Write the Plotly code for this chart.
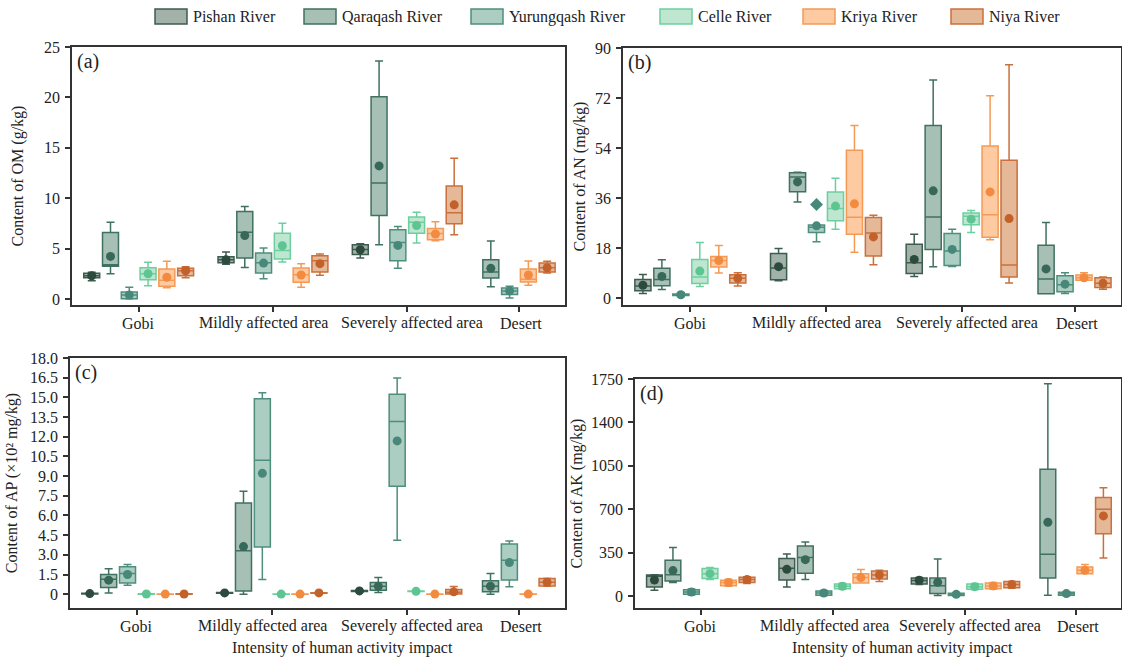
import plotly.graph_objects as go

FONT = "Liberation Serif"
W, H = 1122, 658

categories = ["Gobi", "Mildly affected area", "Severely affected area", "Desert"]
rivers = ["Pishan River", "Qaraqash River", "Yurungqash River", "Celle River", "Kriya River", "Niya River"]
group_centers = [2.5, 9.65, 16.8, 22.75]
label_nudge_px = [0, -9, 5, 2]   # small horizontal nudges of category labels (as in the original)

fill_colors = ["#a2b2a8", "#a7c0b6", "#abcdc2", "#bfe6d0", "#fdcaa2", "#e5b898"]
line_colors = ["#3d5c50", "#40705f", "#4e8e7c", "#6dcf9f", "#f59a55", "#c9703c"]
mean_colors = ["#2d4a3e", "#37685a", "#47887a", "#5cc592", "#f28a40", "#c2622a"]

# ---- each row = one river, columns = [Gobi, Mildly, Severely, Desert]; None = no data ----
# (a) OM g/kg
om_lo = [[1.8, 3.45, 4.06, None], [2.5, 3.13, 5.38, 1.22], [0.0, 2.0, 3.04, 0.1],
         [1.3, 3.66, 5.54, None], [1.1, 1.15, 5.78, 1.35], [2.1, 2.34, 6.37, 2.57]]
om_q1 = [[2.1, 3.6, 4.4, None], [3.25, 4.06, 8.28, 2.08], [0.03, 2.57, 3.8, 0.43],
         [1.9, 3.96, 6.53, None], [1.25, 1.65, 5.87, 1.68], [2.3, 2.67, 7.46, 2.67]]
om_med = [[2.3, 3.9, 4.9, None], [3.4, 6.63, 11.5, 2.67], [0.4, 3.6, 5.6, 0.8],
          [2.5, 4.8, 7.6, None], [1.85, 2.4, 6.5, 1.95], [2.8, 3.8, 8.55, 3.1]]
om_q3 = [[2.55, 4.2, 5.38, None], [6.6, 8.68, 20.07, 3.89], [0.7, 4.55, 6.86, 1.09],
         [3.1, 6.53, 8.12, None], [2.97, 3.07, 7.0, 2.97], [3.05, 4.29, 11.22, 3.56]]
om_hi = [[2.65, 4.65, 5.48, None], [7.6, 9.17, 23.6, 5.74], [1.15, 5.05, 7.2, 1.25],
         [3.65, 7.5, 8.61, None], [3.73, 3.5, 7.66, 3.76], [3.2, 4.46, 13.96, 3.73]]
om_mean = [[2.3, 3.9, 4.88, None], [4.22, 6.3, 13.2, 3.04], [0.4, 3.56, 5.31, 0.8],
           [2.5, 5.28, 7.29, None], [2.15, 2.38, 6.44, 2.38], [2.8, 3.5, 9.34, 3.1]]

# (b) AN mg/kg
an_lo = [[1.6, 6.25, 7.8, None], [3.1, 34.6, 11.3, 1.56], [0.6, 20.3, 11.4, 1.6],
         [4.2, 24.8, 23.6, None], [9.0, 16.5, 21.0, 6.4], [4.3, 12.0, 5.4, 3.2]]
an_q1 = [[2.6, 6.6, 8.8, None], [4.4, 38.3, 17.5, 1.56], [0.9, 23.6, 11.7, 2.3],
         [5.2, 27.8, 26.4, None], [11.2, 23.0, 21.9, 6.4], [5.4, 15.1, 7.6, 3.8]]
an_med = [[4.3, 10.8, 12.7, None], [6.7, 43.6, 29.2, 6.85], [1.2, 25.5, 16.9, 4.8],
          [7.6, 32.2, 29.4, None], [13.5, 29.1, 30.0, 7.3], [7.1, 23.4, 11.9, 5.3]]
an_q3 = [[6.7, 16.0, 19.4, None], [10.7, 45.1, 62.1, 18.99], [1.5, 26.3, 23.2, 8.05],
         [13.9, 38.2, 30.6, None], [15.0, 53.2, 54.7, 8.3], [8.4, 29.0, 49.6, 7.3]]
an_hi = [[8.5, 17.8, 23.0, None], [13.8, 45.3, 78.5, 27.2], [1.9, 26.3, 24.8, 9.1],
         [20.0, 43.1, 31.5, None], [18.9, 62.1, 72.8, 9.1], [9.1, 29.8, 84.0, 7.6]]
an_mean = [[4.6, 11.3, 13.9, None], [7.8, 41.8, 38.6, 10.5], [1.2, 26.0, 17.5, 5.0],
           [9.7, 33.1, 28.4, None], [13.5, 33.9, 38.2, 7.3], [7.1, 22.0, 28.6, 5.3]]
an_outlier_river = "Yurungqash River"
an_outlier_category = "Mildly affected area"
an_outlier_value = 33.7

# (c) AP x10^2 mg/kg
ap_lo = [[0.0, 0.05, 0.18, None], [0.1, 0.0, 0.13, 0.0], [0.69, 1.12, 4.11, 0.56],
         [0.0, 0.0, 0.18, None], [0.0, 0.0, 0.0, 0.0], [0.0, 0.05, 0.0, 0.61]]
ap_q1 = [[0.02, 0.07, 0.2, None], [0.51, 0.25, 0.3, 0.18], [0.86, 3.6, 8.22, 1.09],
         [0.0, 0.0, 0.2, None], [0.0, 0.0, 0.0, 0.0], [0.0, 0.07, 0.02, 0.63]]
ap_med = [[0.05, 0.1, 0.25, None], [1.14, 3.32, 0.6, 0.6], [1.57, 10.2, 13.17, 2.59],
          [0.02, 0.01, 0.22, None], [0.01, 0.01, 0.01, 0.01], [0.02, 0.1, 0.15, 0.91]]
ap_q3 = [[0.08, 0.13, 0.28, None], [1.5, 6.95, 0.89, 1.02], [2.1, 14.9, 15.23, 3.83],
         [0.03, 0.02, 0.24, None], [0.02, 0.02, 0.02, 0.02], [0.03, 0.12, 0.36, 1.19]]
ap_hi = [[0.1, 0.15, 0.3, None], [1.95, 7.84, 1.27, 1.57], [2.26, 15.36, 16.47, 4.06],
         [0.05, 0.03, 0.26, None], [0.03, 0.03, 0.03, 0.03], [0.05, 0.15, 0.58, 1.22]]
ap_mean = [[0.05, 0.1, 0.25, None], [1.07, 3.63, 0.61, 0.61], [1.5, 9.21, 11.68, 2.41],
           [0.02, 0.01, 0.22, None], [0.01, 0.01, 0.01, 0.01], [0.02, 0.1, 0.18, 0.91]]

# (d) AK mg/kg
ak_lo = [[46, 73, 92, None], [108, 132, 3, 5], [8, 3, 0, 2],
         [132, 54, 50, None], [78, 105, 55, 180], [100, 116, 62, 307]]
ak_q1 = [[73, 129, 97, None], [121, 183, 19, 145], [13, 5, 3, 5],
         [140, 59, 54, None], [83, 105, 59, 180], [108, 137, 67, 501]]
ak_med = [[160, 223, 125, None], [172, 310, 83, 337], [32, 24, 13, 19],
          [180, 78, 75, None], [108, 148, 81, 207], [132, 170, 92, 700]]
ak_q3 = [[170, 302, 145, None], [288, 404, 145, 1023], [51, 40, 22, 30],
         [221, 97, 97, None], [127, 180, 105, 234], [151, 202, 116, 794]]
ak_hi = [[172, 339, 150, None], [390, 436, 299, 1712], [57, 45, 26, 35],
         [229, 102, 100, None], [135, 213, 108, 253], [156, 207, 118, 872]]
ak_mean = [[129, 215, 127, None], [205, 293, 110, 595], [32, 24, 13, 19],
           [180, 78, 75, None], [108, 148, 81, 207], [132, 170, 92, 646]]

om_ticks = [0, 5, 10, 15, 20, 25]
an_ticks = [0, 18, 36, 54, 72, 90]
ap_ticks = [0, 1.5, 3.0, 4.5, 6.0, 7.5, 9.0, 10.5, 12.0, 13.5, 15.0, 16.5, 18.0]
ap_ticktext = ["0"] + [f"{v:.1f}" for v in ap_ticks[1:]]
ak_ticks = [0, 350, 700, 1050, 1400, 1750]
x_title = "Intensity of human activity impact"

panels = [
    dict(lo=om_lo, q1=om_q1, med=om_med, q3=om_q3, hi=om_hi, mean=om_mean, ax="", letter="(a)",
         title="Content of OM (g/kg)", ticks=om_ticks, ticktext=[str(v) for v in om_ticks],
         yrange=[-0.6, 25], px=(72, 565), py=(47, 305), tstand=16, xt=None),
    dict(lo=an_lo, q1=an_q1, med=an_med, q3=an_q3, hi=an_hi, mean=an_mean, ax="2", letter="(b)",
         title="Content of AN (mg/kg)", ticks=an_ticks, ticktext=[str(v) for v in an_ticks],
         yrange=[-2.5, 90], px=(623, 1121), py=(48, 305), tstand=5, xt=None),
    dict(lo=ap_lo, q1=ap_q1, med=ap_med, q3=ap_q3, hi=ap_hi, mean=ap_mean, ax="3", letter="(c)",
         title="Content of AP (×10² mg/kg)", ticks=ap_ticks, ticktext=ap_ticktext,
         yrange=[-1.05, 18], px=(70, 565), py=(358, 608), tstand=8, xt=342),
    dict(lo=ak_lo, q1=ak_q1, med=ak_med, q3=ak_q3, hi=ak_hi, mean=ak_mean, ax="4", letter="(d)",
         title="Content of AK (mg/kg)", ticks=ak_ticks, ticktext=[str(v) for v in ak_ticks],
         yrange=[-97, 1750], px=(635, 1121), py=(379, 608), tstand=4, xt=902),
]


def positions(panel):
    """x position of each river's box in each category (present rivers are centred on the group)."""
    pos = [[None] * 4 for _ in rivers]
    for c in range(4):
        present = [r for r in range(len(rivers)) if panel["med"][r][c] is not None]
        n = len(present)
        for k, r in enumerate(present):
            pos[r][c] = group_centers[c] + (k - (n - 1) / 2)
    return pos


fig = go.Figure()
for p in panels:
    pos = positions(p)
    xa, ya = "x" + p["ax"], "y" + p["ax"]
    for r in range(len(rivers)):
        idx = [c for c in range(4) if p["med"][r][c] is not None]
        fig.add_trace(go.Box(
            x=[pos[r][c] for c in idx],
            q1=[p["q1"][r][c] for c in idx],
            median=[p["med"][r][c] for c in idx],
            q3=[p["q3"][r][c] for c in idx],
            lowerfence=[p["lo"][r][c] for c in idx],
            upperfence=[p["hi"][r][c] for c in idx],
            orientation="v", width=0.85, whiskerwidth=0.5, boxpoints=False,
            fillcolor=fill_colors[r], line=dict(color=line_colors[r], width=1.5),
            name=rivers[r], showlegend=False, xaxis=xa, yaxis=ya))
        fig.add_trace(go.Scatter(
            x=[pos[r][c] for c in idx], y=[p["mean"][r][c] for c in idx],
            mode="markers", marker=dict(color=mean_colors[r], size=9),
            showlegend=False, xaxis=xa, yaxis=ya, hoverinfo="skip"))
    if p["ax"] == "2":
        r = rivers.index(an_outlier_river)
        c = categories.index(an_outlier_category)
        fig.add_trace(go.Scatter(
            x=[pos[r][c]], y=[an_outlier_value], mode="markers",
            marker=dict(symbol="diamond", color=mean_colors[r], size=10),
            showlegend=False, xaxis=xa, yaxis=ya, hoverinfo="skip"))

txt_font = dict(family=FONT, size=16, color="#222222")
axis_common = dict(showline=True, mirror=True, linecolor="#333333", linewidth=1.5,
                   ticks="outside", ticklen=5, tickwidth=1.5, tickcolor="#333333",
                   showgrid=False, zeroline=False, automargin=False, tickfont=txt_font)

layout = dict(
    width=W, height=H, margin=dict(l=0, r=0, t=0, b=0),
    paper_bgcolor="white", plot_bgcolor="white", boxmode="overlay",
    font=txt_font, showlegend=False,
)
annotations = []
for p in panels:
    xk, yk = "xaxis" + p["ax"], "yaxis" + p["ax"]
    xdom = [p["px"][0] / W, p["px"][1] / W]
    ydom = [1 - p["py"][1] / H, 1 - p["py"][0] / H]
    layout[xk] = dict(axis_common, domain=xdom, anchor="y" + p["ax"],
                      range=[-1.05, 25.2], tickvals=group_centers,
                      ticktext=[""] * len(categories))
    layout[yk] = dict(axis_common, domain=ydom, anchor="x" + p["ax"],
                      range=p["yrange"], tickvals=p["ticks"], ticktext=p["ticktext"],
                      ticklabelstandoff=2,
                      title=dict(text=p["title"], font=txt_font, standoff=p["tstand"]))
    # category labels under each group
    for c, cat in enumerate(categories):
        annotations.append(dict(text=cat, xref="x" + p["ax"], yref="y" + p["ax"] + " domain",
                                x=group_centers[c], y=0, xanchor="center", yanchor="middle",
                                xshift=label_nudge_px[c], yshift=-18, showarrow=False, font=txt_font))
    if p["xt"] is not None:
        annotations.append(dict(text=x_title, xref="paper", yref="y" + p["ax"] + " domain",
                                x=p["xt"] / W, y=0, xanchor="center", yanchor="middle",
                                yshift=-40, showarrow=False, font=txt_font))
    annotations.append(dict(text=p["letter"], xref="x" + p["ax"] + " domain", yref="y" + p["ax"] + " domain",
                            x=0.006, y=0.995, xanchor="left", yanchor="top", showarrow=False,
                            font=dict(family=FONT, size=20, color="#222222")))

# manual legend (swatch + label) across the top
legend_x = [155, 304, 471, 660, 803, 951]
shapes = []
for r, name in enumerate(rivers):
    x0 = legend_x[r] / W
    shapes.append(dict(type="rect", xref="paper", yref="paper",
                       x0=x0, x1=x0 + 32 / W, y0=1 - 24 / H, y1=1 - 9 / H,
                       fillcolor=fill_colors[r], line=dict(color=line_colors[r], width=1.5)))
    annotations.append(dict(text=name, xref="paper", yref="paper", x=x0 + 36 / W,
                            y=1 - 16.5 / H, xanchor="left", yanchor="middle", showarrow=False,
                            font=txt_font))

layout["annotations"] = annotations
layout["shapes"] = shapes
fig.update_layout(**layout)
fig.write_html("out.html", config={"displayModeBar": False},
               post_script="document.body.style.margin='0';")
